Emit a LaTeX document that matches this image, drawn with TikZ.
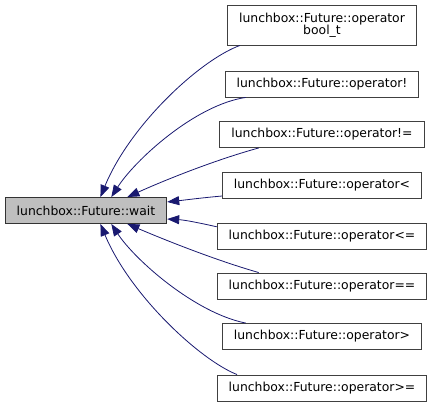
\documentclass[tikz,border=0pt]{standalone}
\usepackage{fontspec}
\setmainfont{DejaVu Sans}
\usetikzlibrary{arrows.meta}
\definecolor{midnightblue}{RGB}{25,25,112}

\begin{document}
\begin{tikzpicture}[x=1pt,y=-1pt,
  fn/.style={draw=black!75,line width=0.9pt,fill=white,inner xsep=11.5pt,inner ysep=0pt,minimum height=26pt,font=\fontsize{12.4}{14}\selectfont,align=center},
  calls/.style={draw=midnightblue,line width=0.8pt,-{Triangle[length=12pt,width=9pt]}}]
  \useasboundingbox (0,0) rectangle (435,407);
  \node[fn,fill=black!25,draw=black!80] (wait) at (86,210.5) {lunchbox::Future::wait};
  \node[fn,minimum height=40pt] (opBool) at (322,25) {lunchbox::Future::operator\\[-2pt]bool\_t};
  \node[fn] (opNot) at (322,84) {lunchbox::Future::operator!};
  \node[fn] (opNe) at (322,134.5) {lunchbox::Future::operator!=};
  \node[fn] (opLt) at (322,185.5) {lunchbox::Future::operator<};
  \node[fn] (opLe) at (322,236) {lunchbox::Future::operator<=};
  \node[fn] (opEq) at (322,286) {lunchbox::Future::operator==};
  \node[fn] (opGt) at (322,336.5) {lunchbox::Future::operator>};
  \node[fn] (opGe) at (322,388) {lunchbox::Future::operator>=};
  \draw[calls] (opBool.194) .. controls (200,60) and (130,125) .. (wait.43);
  \draw[calls] (opNot.190) .. controls (195,105) and (135,160) .. (wait.28);
  \draw[calls] (opNe.192) .. controls (215,160) and (165,180) .. (wait.18);
  \draw[calls] (opLt.186) .. controls (200,198) and (185,200) .. (wait.6);
  \draw[calls] (opLe.175) .. controls (200,223) and (185,220) .. (wait.-6);
  \draw[calls] (opEq.168) .. controls (215,260) and (165,240) .. (wait.-18);
  \draw[calls] (opGt.170) .. controls (195,313) and (135,260) .. (wait.-28);
  \draw[calls] (opGe.171) .. controls (200,360) and (130,295) .. (wait.-43);
\end{tikzpicture}
\end{document}
